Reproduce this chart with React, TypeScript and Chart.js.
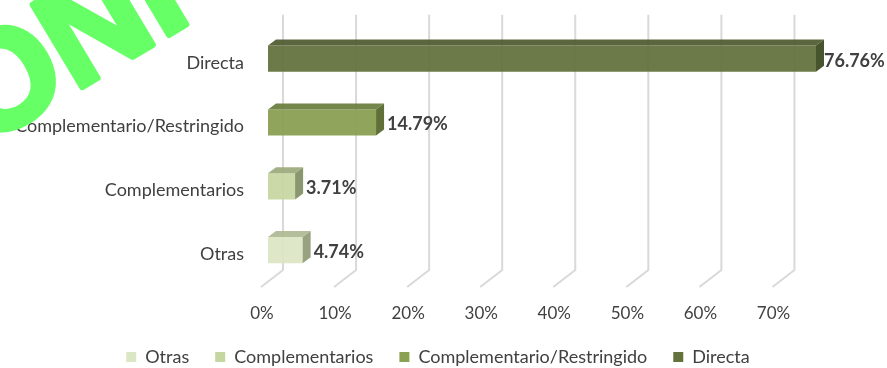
import React, { useEffect, useRef } from "react";
import { Chart, registerables } from "chart.js";

Chart.register(...registerables);

const categories = ["Directa", "Complementario/Restringido", "Complementarios", "Otras"];
const seriesNames = ["Otras", "Complementarios", "Complementario/Restringido", "Directa"];
const otras = [null, null, null, 4.74];
const complementarios = [null, null, 3.71, null];
const restringido = [null, 14.79, null, null];
const directa = [76.76, null, null, null];
const frontColors = ["rgba(219,230,196,0.92)", "rgba(198,214,160,0.92)", "rgba(138,160,82,0.95)", "rgba(100,114,62,0.95)"];
const topColors = ["rgba(176,186,150,0.95)", "rgba(158,172,126,0.95)", "rgba(110,128,64,0.95)", "rgba(82,94,52,0.95)"];
const sideColors = ["rgba(152,162,128,1)", "rgba(138,150,110,1)", "rgba(96,112,56,1)", "rgba(72,84,46,1)"];
const watermark = "ONI";

const FONT = "Lato, 'Open Sans', sans-serif";
const DX = 8;
const DY = -6;
const LEGEND_SHIFT = 30;

const solid = (c: string) => c.replace(/rgba\((\d+),(\d+),(\d+),[^)]+\)/, "rgb($1,$2,$3)");

const wall3d = {
  id: "wall3d",
  afterLayout(chart: any) {
    chart.legend.left += LEGEND_SHIFT;
    chart.legend.right += LEGEND_SHIFT;
  },
  beforeDatasetsDraw(chart: any) {
    const { ctx, scales, chartArea } = chart;
    ctx.save();
    ctx.strokeStyle = "#d9d9d9";
    ctx.lineWidth = 2;
    for (const t of scales.x.ticks) {
      const x = scales.x.getPixelForValue(t.value);
      ctx.beginPath();
      ctx.moveTo(x + 15, chartArea.top - 12);
      ctx.lineTo(x + 15, chartArea.bottom - 12);
      ctx.lineTo(x - 7, chartArea.bottom + 5);
      ctx.stroke();
    }
    ctx.restore();
  },
  afterDatasetsDraw(chart: any) {
    const { ctx, chartArea } = chart;
    chart.data.datasets.forEach((ds: any, di: number) => {
      chart.getDatasetMeta(di).data.forEach((el: any, i: number) => {
        const v = ds.data[i];
        if (v == null) return;
        const x = Math.min(el.x, chartArea.right);
        const t = el.y - el.height / 2;
        const b = el.y + el.height / 2;
        const l = el.base;
        ctx.save();
        ctx.fillStyle = topColors[di];
        ctx.beginPath();
        ctx.moveTo(l, t);
        ctx.lineTo(l + DX, t + DY);
        ctx.lineTo(x + DX, t + DY);
        ctx.lineTo(x, t);
        ctx.closePath();
        ctx.fill();
        ctx.fillStyle = sideColors[di];
        ctx.beginPath();
        ctx.moveTo(x, t);
        ctx.lineTo(x + DX, t + DY);
        ctx.lineTo(x + DX, b + DY);
        ctx.lineTo(x, b);
        ctx.closePath();
        ctx.fill();
        ctx.fillStyle = "#404040";
        ctx.font = `bold 18px ${FONT}`;
        ctx.textAlign = "left";
        ctx.textBaseline = "middle";
        const clipped = el.x > chartArea.right;
        ctx.fillText(`${v.toFixed(2)}%`, x + DX + (clipped ? 0 : 3), el.y + 2);
        ctx.restore();
      });
    });
  },
  afterDraw(chart: any) {
    const { ctx } = chart;
    ctx.save();
    ctx.translate(-19, 148);
    ctx.rotate((-31 * Math.PI) / 180);
    ctx.fillStyle = "#66ff66";
    ctx.strokeStyle = "#66ff66";
    ctx.lineWidth = 6;
    ctx.lineJoin = "round";
    ctx.font = "bold 140px 'Liberation Sans', sans-serif";
    ctx.textAlign = "left";
    ctx.textBaseline = "alphabetic";
    ctx.fillText(watermark, 0, 0);
    ctx.strokeText(watermark, 0, 0);
    ctx.restore();
  },
};

export default function App() {
  const ref = useRef<HTMLCanvasElement>(null);
  useEffect(() => {
    const values = [otras, complementarios, restringido, directa];
    const chart = new Chart(ref.current as HTMLCanvasElement, {
      type: "bar",
      data: {
        labels: categories,
        datasets: seriesNames.map((name, i) => ({
          label: name,
          data: values[i],
          backgroundColor: frontColors[i],
          borderWidth: 0,
          barPercentage: 0.41,
          categoryPercentage: 1,
        })),
      } as any,
      options: {
        indexAxis: "y",
        responsive: false,
        animation: false,
        layout: { padding: { top: 26, right: 71, left: 0, bottom: -8 } },
        scales: {
          x: {
            stacked: true,
            min: 0,
            max: 75,
            grid: { display: false },
            border: { display: false },
            ticks: {
              stepSize: 10,
              includeBounds: false,
              maxRotation: 0,
              labelOffset: -6,
              padding: 13,
              color: "#404040",
              font: { family: FONT, size: 17 },
              callback: (v: any) => `${v}%`,
            },
            afterFit(s: any) {
              s.height = 40;
            },
          },
          y: {
            stacked: true,
            grid: { display: false },
            border: { display: false },
            ticks: {
              padding: 16,
              labelOffset: 4,
              autoSkip: false,
              color: "#404040",
              font: { family: FONT, size: 18 },
            },
            afterFit(s: any) {
              s.width = 268;
            },
          },
        },
        plugins: {
          tooltip: { enabled: false },
          legend: {
            display: true,
            position: "bottom",
            labels: {
              boxWidth: 10,
              boxHeight: 10,
              padding: 26,
              color: "#404040",
              font: { family: FONT, size: 18 },
              generateLabels: (c: any) =>
                c.data.datasets.map((d: any, i: number) => ({
                  text: d.label,
                  fillStyle: solid(frontColors[i]),
                  strokeStyle: "transparent",
                  lineWidth: 0,
                  datasetIndex: i,
                  fontColor: "#404040",
                })),
            },
          },
        },
      },
      plugins: [wall3d],
    } as any);
    return () => chart.destroy();
  }, []);
  return (
    <div style={{ position: "absolute", left: 0, top: 0, width: 887, height: 368, background: "#fff" }}>
      <canvas ref={ref} width={887} height={368} style={{ display: "block" }} />
    </div>
  );
}
